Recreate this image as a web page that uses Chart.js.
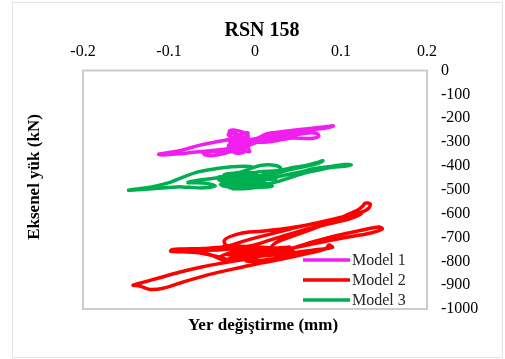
<!DOCTYPE html>
<html>
<head>
<meta charset="utf-8">
<script src="https://cdn.jsdelivr.net/npm/chart.js@4/dist/chart.umd.min.js"></script>
<style>
  html, body { margin: 0; padding: 0; background: #fff; }
  #wrap { width: 505px; height: 359px; position: relative; }
</style>
</head>
<body>
<div id="wrap"><canvas id="c" width="505" height="359"></canvas></div>
<script>
// Axial load vs. displacement, record RSN 158
const xTicks = [-0.2, -0.1, 0, 0.1, 0.2];
const yTicks = [0, -100, -200, -300, -400, -500, -600, -700, -800, -900, -1000];
const seriesNames = ['Model 1', 'Model 2', 'Model 3'];

// Model 1: displacement (mm) and axial load (kN)
const model1Disp = [-0.018, -0.010, -0.026, -0.008, -0.030, -0.006, -0.027, -0.031, -0.012, -0.024,
  -0.014, 0.002, 0.014, 0.035, 0.064, 0.080, 0.091, 0.087, 0.072, 0.050,
  0.028, 0.012, -0.004, -0.020, -0.036, -0.052, -0.072, -0.092, -0.108, -0.112,
  -0.100, -0.084, -0.064, -0.046, -0.032, -0.018, -0.006, 0.014, 0.030, 0.045,
  0.064, 0.074, 0.072, 0.062, 0.046, 0.028, 0.010, -0.008, -0.024, -0.036,
  -0.048, -0.058, -0.060, -0.048, -0.032, -0.016, -0.024, -0.030, -0.020, -0.010,
  -0.022, -0.014, -0.028, -0.010, -0.020, -0.012, -0.028, -0.008, -0.030, -0.006,
  -0.026, -0.016, -0.031, -0.008, -0.020];
const model1Load = [-300, -285, -318, -272, -332, -312, -262, -270, -338, -344,
  -298, -285, -265, -255, -243, -237, -232, -238, -246, -256,
  -266, -280, -302, -320, -330, -336, -343, -350, -354, -351,
  -344, -333, -313, -300, -290, -283, -298, -300, -290, -283,
  -285, -276, -264, -262, -270, -280, -292, -314, -334, -348,
  -356, -353, -345, -340, -336, -322, -300, -256, -252, -270,
  -310, -330, -322, -290, -275, -305, -340, -262, -295, -340,
  -250, -345, -315, -280, -328];

// Model 2
const model2Disp = [0.000, -0.022, 0.024, -0.032, 0.034, -0.012, 0.044, -0.036, 0.010, 0.024,
  0.052, 0.080, 0.104, 0.120, 0.126, 0.128, 0.134, 0.132, 0.124, 0.104,
  0.078, 0.050, 0.020, -0.010, -0.034, -0.060, -0.084, -0.096, -0.098, -0.084,
  -0.062, -0.042, -0.024, -0.004, 0.020, 0.044, 0.070, 0.098, 0.124, 0.144,
  0.148, 0.136, 0.112, 0.088, 0.064, 0.040, 0.016, -0.010, -0.036, -0.062,
  -0.088, -0.112, -0.134, -0.142, -0.134, -0.122, -0.108, -0.086, -0.058, -0.030,
  0.000, 0.030, 0.058, 0.082, 0.086, 0.090, 0.070, 0.040, 0.010, -0.020,
  -0.036, -0.018, 0.008, 0.040, 0.080, 0.110, 0.124, 0.110, 0.080, 0.050,
  0.020, -0.006, -0.040, -0.070, -0.052, -0.036, -0.040, -0.016, 0.014, 0.030,
  0.004, -0.030, 0.040, -0.010, 0.046, -0.028, 0.020];
const model2Load = [-752, -745, -762, -772, -742, -784, -756, -736, -766, -722,
  -684, -646, -610, -584, -566, -556, -560, -578, -594, -612,
  -634, -656, -684, -712, -738, -746, -748, -750, -758, -760,
  -766, -782, -798, -778, -764, -744, -716, -690, -670, -656,
  -664, -680, -696, -712, -730, -748, -770, -790, -806, -824,
  -846, -870, -892, -900, -904, -918, -914, -890, -860, -836,
  -812, -792, -770, -748, -732, -742, -752, -766, -776, -760,
  -716, -684, -674, -660, -636, -616, -600, -622, -648, -676,
  -708, -736, -752, -756, -772, -796, -780, -752, -742, -758,
  -760, -790, -740, -800, -770, -748, -752];

// Model 3
const model3Disp = [-0.010, 0.008, -0.030, 0.018, -0.038, 0.012, -0.022, 0.024, -0.042, -0.002,
  -0.026, 0.020, -0.040, 0.004, 0.026, 0.046, 0.062, 0.074, 0.079, 0.074,
  0.062, 0.044, 0.028, 0.010, -0.014, -0.034, -0.018, 0.006, 0.030, 0.050,
  0.068, 0.088, 0.104, 0.112, 0.104, 0.090, 0.076, 0.060, 0.040, 0.024,
  0.000, -0.012, -0.004, -0.026, -0.046, -0.066, -0.082, -0.098, -0.120, -0.140,
  -0.147, -0.136, -0.112, -0.090, -0.076, -0.060, -0.046, -0.060, -0.078, -0.066,
  -0.048, -0.030, -0.010, 0.006, 0.024, 0.030, 0.016, -0.006, -0.030, -0.012,
  -0.040, 0.002, -0.036, -0.004, -0.030, 0.010, -0.042, 0.000, -0.020, 0.018];
const model3Load = [-455, -440, -472, -432, -482, -474, -428, -456, -446, -490,
  -496, -484, -462, -425, -420, -406, -396, -384, -378, -388,
  -400, -413, -428, -446, -466, -486, -478, -462, -442, -428,
  -412, -402, -394, -396, -402, -406, -416, -428, -450, -468,
  -480, -430, -404, -404, -412, -425, -445, -468, -488, -498,
  -502, -500, -494, -488, -490, -492, -484, -472, -470, -460,
  -452, -440, -418, -398, -398, -412, -436, -468, -456, -446,
  -478, -432, -438, -484, -490, -450, -458, -470, -486, -446];

const colors = ['#f01ff0', '#ff0000', '#00b050'];
const serif = '"Liberation Serif", "Times New Roman", serif';

function pairs(xs, ys) { return xs.map((x, i) => ({ x: x, y: ys[i] })); }

const seriesData = [
  pairs(model1Disp, model1Load),
  pairs(model2Disp, model2Load),
  pairs(model3Disp, model3Load)
];

// Frame, plot box, titles and the inset legend
const decorations = {
  id: 'decorations',
  beforeDraw(chart) {
    const ctx = chart.ctx;
    ctx.save();
    ctx.fillStyle = '#fff';
    ctx.fillRect(0, 0, chart.width, chart.height);
    ctx.strokeStyle = '#e4e4e4';
    ctx.lineWidth = 1;
    ctx.strokeRect(12.5, 2.5, 490, 355);
    ctx.restore();
  },
  beforeDatasetsDraw(chart) {
    const ctx = chart.ctx, a = chart.chartArea;
    ctx.save();
    ctx.strokeStyle = '#cccccc';
    ctx.lineWidth = 2;
    ctx.strokeRect(a.left, a.top, a.right - a.left, a.bottom - a.top);
    ctx.restore();
  },
  afterDraw(chart) {
    const ctx = chart.ctx;
    ctx.save();
    ctx.fillStyle = '#000';
    ctx.textAlign = 'center';
    ctx.textBaseline = 'middle';
    ctx.font = 'bold 20px ' + serif;
    ctx.fillText('RSN 158', 262, 31);
    ctx.font = 'bold 17px ' + serif;
    ctx.fillText('Yer değiştirme (mm)', 263, 326);
    ctx.save();
    ctx.translate(35, 177);
    ctx.rotate(-Math.PI / 2);
    ctx.fillText('Eksenel yük (kN)', 0, 0);
    ctx.restore();

    // legend
    ctx.textAlign = 'left';
    ctx.font = '16px ' + serif;
    chart.data.datasets.forEach((ds, i) => {
      const y = 260 + 20 * i;
      ctx.strokeStyle = ds.borderColor;
      ctx.lineWidth = 3.5;
      ctx.beginPath();
      ctx.moveTo(303, y);
      ctx.lineTo(350, y);
      ctx.stroke();
      ctx.fillStyle = '#262626';
      ctx.fillText(ds.label, 352, y + 0.5);
    });
    ctx.restore();
  }
};

const tickFont = { family: serif, size: 16 };

new Chart(document.getElementById('c'), {
  type: 'scatter',
  data: {
    datasets: seriesData.map((d, i) => ({
      label: seriesNames[i],
      data: d,
      showLine: true,
      borderColor: colors[i],
      backgroundColor: colors[i],
      borderWidth: 3.5,
      pointRadius: 0,
      pointHoverRadius: 0,
      tension: 0.35,
      borderCapStyle: 'round',
      borderJoinStyle: 'round',
      fill: false
    }))
  },
  options: {
    responsive: false,
    animation: false,
    devicePixelRatio: 1,
    layout: { padding: { left: 83, right: 0, top: 42.5, bottom: 50 } },
    plugins: {
      legend: { display: false },
      title: { display: false },
      tooltip: { enabled: false }
    },
    scales: {
      x: {
        type: 'linear',
        position: 'top',
        min: -0.2,
        max: 0.2,
        afterBuildTicks: s => { s.ticks = xTicks.map(v => ({ value: v })); },
        afterFit: s => { s.height = 28; },
        grid: { display: false, drawTicks: false },
        border: { display: false },
        ticks: {
          padding: 9,
          font: tickFont,
          color: '#000',
          maxRotation: 0,
          autoSkip: false,
          callback: v => String(Math.round(v * 10) / 10)
        }
      },
      y: {
        type: 'linear',
        position: 'right',
        min: -1000,
        max: 0,
        afterBuildTicks: s => { s.ticks = yTicks.map(v => ({ value: v })); },
        afterFit: s => { s.width = 78; },
        grid: { display: false, drawTicks: false },
        border: { display: false },
        ticks: {
          padding: 14,
          font: tickFont,
          color: '#000',
          autoSkip: false,
          callback: v => String(v)
        }
      }
    }
  },
  plugins: [decorations]
});
</script>
</body>
</html>
